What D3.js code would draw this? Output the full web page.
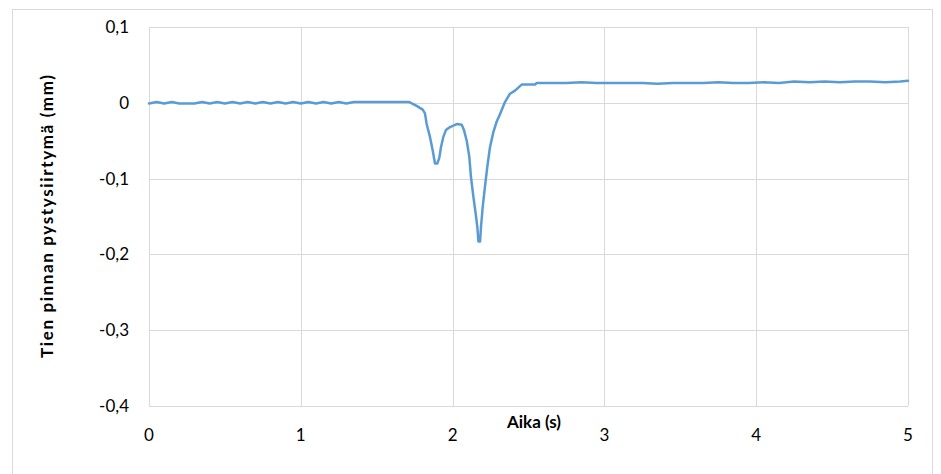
<!DOCTYPE html>
<html>
<head>
<meta charset="utf-8">
<script src="https://cdn.jsdelivr.net/npm/d3@7"></script>
<style>
  body { margin:0; background:#fff; }
  text { font-family: Lato, "Liberation Sans", sans-serif; fill:#000; }
</style>
</head>
<body>
<svg id="chart" width="941" height="474"></svg>
<script>
// x axis ticks (s) and y axis ticks (mm)
var xTicks = [0, 1, 2, 3, 4, 5];
var yTicks = [0.1, 0, -0.1, -0.2, -0.3, -0.4];

// measured time (s)
var time = [
	0, 0.05, 0.10, 0.15, 0.20, 0.25, 0.30, 0.35, 0.40, 0.45, 0.50, 0.55, 0.60, 0.65, 0.70,
	0.75, 0.80, 0.85, 0.90, 0.95, 1.00, 1.05, 1.10, 1.15, 1.20, 1.25, 1.30, 1.35, 1.40, 1.45,
	1.50, 1.55, 1.60, 1.65, 1.715,
	1.763, 1.803, 1.818, 1.829, 1.851, 1.869, 1.884, 1.899, 1.912, 1.924, 1.939, 1.956, 1.983,
	2.027, 2.060, 2.075, 2.093, 2.110, 2.121, 2.137, 2.152, 2.163, 2.170, 2.181, 2.187, 2.198,
	2.213, 2.229, 2.246, 2.268, 2.290, 2.312, 2.345, 2.378, 2.411, 2.455, 2.543, 2.553,
	2.65, 2.75, 2.85, 2.95, 3.05, 3.15, 3.25, 3.35, 3.45, 3.55, 3.65, 3.75, 3.85, 3.95,
	4.05, 4.15, 4.25, 4.35, 4.45, 4.55, 4.65, 4.75, 4.85, 4.95, 5.0
];
// road surface vertical displacement (mm)
var disp = [
	-0.001, 0.001, -0.001, 0.001, -0.001, -0.001, -0.001, 0.001, -0.001, 0.001, -0.001, 0.001, -0.001, 0.001, -0.001,
	0.001, -0.001, 0.001, -0.001, 0.001, -0.001, 0.001, -0.001, 0.001, -0.001, 0.001, -0.001, 0.001, 0.001, 0.001,
	0.001, 0.001, 0.001, 0.001, 0.001,
	-0.004, -0.009, -0.014, -0.028, -0.045, -0.063, -0.080, -0.080, -0.073, -0.058, -0.045, -0.036, -0.032,
	-0.028, -0.029, -0.036, -0.050, -0.071, -0.098, -0.124, -0.146, -0.164, -0.183, -0.183, -0.164, -0.138,
	-0.111, -0.084, -0.059, -0.039, -0.025, -0.015, 0.001, 0.012, 0.016, 0.024, 0.024, 0.026,
	0.026, 0.026, 0.027, 0.026, 0.026, 0.026, 0.026, 0.025, 0.026, 0.026, 0.026, 0.027, 0.026, 0.026,
	0.027, 0.026, 0.028, 0.027, 0.028, 0.027, 0.028, 0.028, 0.027, 0.028, 0.029
];

var svg = d3.select("#chart");
var m = {left:149, top:27, right:908, bottom:406};

var x = d3.scaleLinear().domain([0, 5]).range([m.left, m.right]);
var y = d3.scaleLinear().domain([-0.4, 0.1]).range([m.bottom, m.top]);

// finnish style: comma decimal, plain hyphen minus
function fmt(v) {
	if (v === 0) return "0";
	return (v < 0 ? "-" : "") + Math.abs(v).toFixed(1).replace(".", ",");
}

// outer chart border
svg.append("rect")
	.attr("x", 12.5).attr("y", 9.5)
	.attr("width", 920).attr("height", 480)
	.attr("fill", "none").attr("stroke", "#d9d9d9");

// gridlines
svg.append("g").selectAll("line")
	.data(yTicks).enter().append("line")
		.attr("x1", m.left).attr("x2", m.right)
		.attr("y1", function(d){ return Math.round(y(d)) + 0.5; })
		.attr("y2", function(d){ return Math.round(y(d)) + 0.5; })
		.attr("stroke", "#d9d9d9").attr("stroke-width", 1);
svg.append("g").selectAll("line")
	.data(xTicks).enter().append("line")
		.attr("y1", m.top).attr("y2", m.bottom)
		.attr("x1", function(d){ return Math.round(x(d)) + 0.5; })
		.attr("x2", function(d){ return Math.round(x(d)) + 0.5; })
		.attr("stroke", "#d9d9d9").attr("stroke-width", 1);

// y tick labels
svg.append("g").selectAll("text")
	.data(yTicks).enter().append("text")
		.attr("x", 129)
		.attr("y", function(d){ return y(d); })
		.attr("dy", "0.35em")
		.attr("text-anchor", "end")
		.style("font-size", "17px")
		.text(fmt);

// x tick labels
svg.append("g").selectAll("text")
	.data(xTicks).enter().append("text")
		.attr("x", function(d){ return x(d); })
		.attr("y", 441)
		.attr("text-anchor", "middle")
		.style("font-size", "17px")
		.text(function(d){ return d; });

// axis titles
svg.append("text")
	.attr("x", 534).attr("y", 428)
	.attr("text-anchor", "middle")
	.style("font-size", "17px").style("font-weight", "bold")
	.text("Aika (s)");
svg.append("text")
	.attr("transform", "translate(53," + ((m.top + m.bottom) / 2) + ") rotate(-90)")
	.attr("text-anchor", "middle")
	.attr("textLength", 283)
	.attr("lengthAdjust", "spacing")
	.style("font-size", "17px").style("font-weight", "bold")
	.text("Tien pinnan pystysiirtymä (mm)");

// series
var pts = time.map(function(t, i){ return [t, disp[i]]; });
var line = d3.line()
	.x(function(d){ return x(d[0]); })
	.y(function(d){ return y(d[1]); });
svg.append("path")
	.datum(pts)
	.attr("d", line)
	.attr("fill", "none")
	.attr("stroke", "#5b9bd5")
	.attr("stroke-width", 2.5)
	.attr("stroke-linejoin", "round")
	.attr("stroke-linecap", "round");
</script>
</body>
</html>
